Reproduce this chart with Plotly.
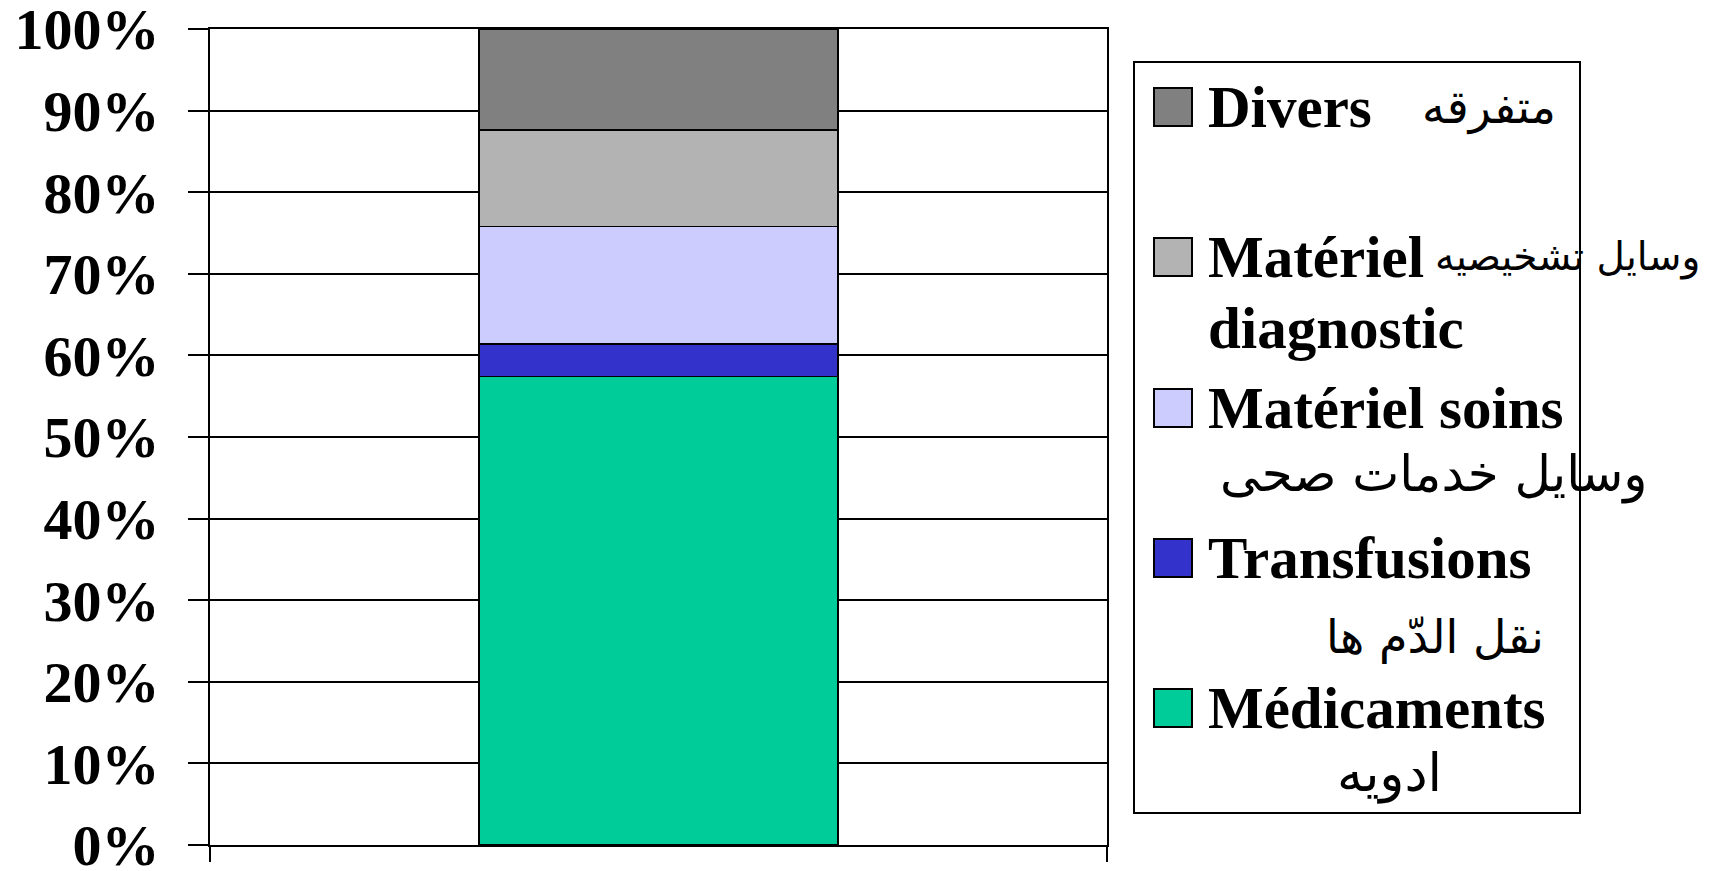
import plotly.graph_objects as go

# ---- data ----
categories = ["Total"]
series_fr = ["Médicaments", "Transfusions", "Matériel soins", "Matériel diagnostic", "Divers"]
series_ar = ["ادویه", "نقل الدّم ها", "وسایل خدمات صحی", "وسایل تشخیصیه", "متفرقه"]
values = [57.4, 4.0, 14.4, 11.8, 12.4]  # percent of total
colors = ["#00CC99", "#3333CC", "#CCCCFF", "#B3B3B3", "#808080"]
y_ticks = [0, 10, 20, 30, 40, 50, 60, 70, 80, 90, 100]

# ---- layout geometry (px) ----
W, H = 1719, 871
OFF = 8  # page body margin offset
PX0, PY0, PW, PH = 210, 29, 897, 816  # plot area in reference pixels
L, T = PX0 - OFF, PY0 - OFF
R, B = W - L - PW, H - T - PH

def px(x):
    return (x - PX0) / PW

def py(y):
    return (PY0 + PH - y) / PH

fig = go.Figure()
for name, v, c in zip(series_fr, values, colors):
    fig.add_trace(go.Bar(
        x=categories, y=[v], name=name, width=0.4,
        marker=dict(color=c, line=dict(color="black", width=1.5)),
        showlegend=False,
    ))

serif = "Liberation Serif, Times New Roman, serif"
arab = "DejaVu Sans, Noto Sans, sans-serif"

fig.update_layout(
    width=W, height=H, barmode="stack",
    margin=dict(l=L, r=R, t=T, b=B, pad=0, autoexpand=False),
    paper_bgcolor="white", plot_bgcolor="white",
    font=dict(family=serif, color="black"),
    xaxis=dict(type="category", showticklabels=False, tickson="boundaries",
               ticks="outside", ticklen=15, tickwidth=2, tickcolor="black",
               showline=True, linecolor="black", linewidth=2, mirror=True,
               showgrid=False, range=[-0.5, 0.5], automargin=False),
    yaxis=dict(range=[0, 100], tickvals=y_ticks, ticktext=[f"{t}%" for t in y_ticks],
               ticks="outside", ticklen=20, tickwidth=2, tickcolor="black",
               tickfont=dict(family=serif, size=58, color="black", weight="bold"),
               ticklabelstandoff=17, ticklabeloverflow="allow", automargin=False,
               showgrid=True, gridcolor="black", gridwidth=2,
               showline=True, linecolor="black", linewidth=2, mirror=True,
               zeroline=False),
)

# ---- legend (drawn manually to match reference layout) ----
shapes = []
annotations = []
shapes.append(dict(type="rect", xref="paper", yref="paper",
                   x0=px(1134), x1=px(1580), y0=py(813), y1=py(62),
                   line=dict(color="black", width=2), fillcolor="white", layer="above"))
order = list(range(len(series_fr)))[::-1]  # top to bottom
row_y = [107, 257, 408, 558, 708]
fr_lines = {4: ["Divers"], 3: ["Matériel", "diagnostic"], 2: ["Matériel soins"],
            1: ["Transfusions"], 0: ["Médicaments"]}
# arabic placement: (x px, anchor, y center px, size)
ar_pos = {4: (1558, "right", 108, 46), 3: (1702, "right", 257, 39),
          2: (1218, "left", 474, 50), 1: (1546, "right", 637, 46),
          0: (1335, "left", 773, 52)}
for yc, i in zip(row_y, order):
    shapes.append(dict(type="rect", xref="paper", yref="paper",
                       x0=px(1154), x1=px(1192), y0=py(yc + 19), y1=py(yc - 19),
                       fillcolor=colors[i], line=dict(color="black", width=2), layer="above"))
    for k, line in enumerate(fr_lines[i]):
        annotations.append(dict(xref="paper", yref="paper", x=px(1206), y=py(yc + 71 * k),
                                xanchor="left", yanchor="middle", showarrow=False,
                                text=f"<b>{line}</b>",
                                font=dict(family=serif, size=59, color="black")))
    ax, anc, ay, asz = ar_pos[i]
    annotations.append(dict(xref="paper", yref="paper", x=px(ax), y=py(ay),
                            xanchor=anc, yanchor="middle", showarrow=False,
                            text=series_ar[i],
                            font=dict(family=arab, size=asz, color="black")))

fig.update_layout(shapes=shapes, annotations=annotations)
fig.write_html("out.html")
